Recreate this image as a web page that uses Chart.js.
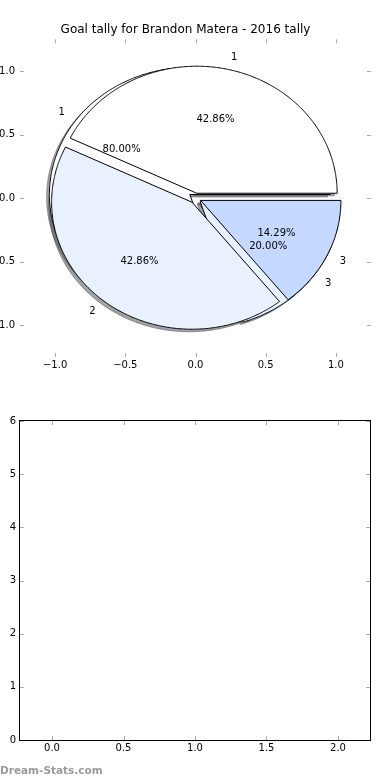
<!DOCTYPE html>
<html>
<head>
<meta charset="utf-8">
<script src="https://cdn.jsdelivr.net/npm/chart.js@4/dist/chart.umd.min.js"></script>
<style>
  body { margin: 0; background: #fff; }
  #wrap { position: relative; width: 390px; height: 780px; }
  canvas { position: absolute; left: 0; }
  #mark { position: absolute; left: 0; top: 763px; font: bold 10.5px "DejaVu Sans"; color: #9a9a9a; line-height: 14px; }
</style>
</head>
<body>
<div id="wrap">
  <canvas id="pieChart" width="390" height="390" style="top:0"></canvas>
  <canvas id="emptyChart" width="390" height="390" style="top:390px"></canvas>
  <div id="mark">Dream-Stats.com</div>
</div>
<script>
// dados da pizza principal (3 fatias) e da pizza de baixo (2 fatias)
const sliceLabels = ['1', '2', '3'];
const goalValues = [3, 3, 1];
const sliceColors = ['#ffffff', '#eaf1fe', '#c5d8ff'];
const goalExplode = [0.04, 0.04, 0.04];

const seasonLabels = ['1', '3'];
const seasonValues = [4, 1];
const seasonColors = ['#ffffff', '#eaf1fe'];
const seasonExplode = [0.05, 0.04];

// ticks dos eixos
const xTicksTop = [-1, -0.5, 0, 0.5, 1];
const yTicksTop = [-1, -0.5, 0, 0.5, 1];
const xTicksBottom = [0, 0.5, 1, 1.5, 2];
const yTicksBottom = [0, 1, 2, 3, 4, 5, 6];

Chart.defaults.font.family = 'DejaVu Sans';
Chart.defaults.font.size = 10;
Chart.defaults.color = '#000';

function fmt(v) {
    return (v < 0 ? '\u2212' : '') + Math.abs(v).toFixed(1);
}

function wedgesOf(values, explode) {
    const total = values.reduce((a, b) => a + b, 0);
    let t1 = 0;
    return values.map((v, i) => {
        const t2 = t1 + v / total * 360;
        const mid = (t1 + t2) / 2 * Math.PI / 180;
        const w = { t1, t2, mid, frac: v / total,
            cx: explode[i] * Math.cos(mid), cy: explode[i] * Math.sin(mid) };
        t1 = t2;
        return w;
    });
}

function wedgePath(ctx, x, y, w, dx, dy) {
    const n = Math.ceil((w.t2 - w.t1) / 0.5);
    ctx.beginPath();
    ctx.moveTo(x.getPixelForValue(w.cx + dx), y.getPixelForValue(w.cy + dy));
    for (let k = 0; k <= n; k++) {
        const a = (w.t1 + (w.t2 - w.t1) * k / n) * Math.PI / 180;
        ctx.lineTo(x.getPixelForValue(w.cx + dx + Math.cos(a)), y.getPixelForValue(w.cy + dy + Math.sin(a)));
    }
    ctx.closePath();
}

function shade(hex) {
    const n = parseInt(hex.slice(1), 16);
    return 'rgba(' + [(n >> 16) & 255, (n >> 8) & 255, n & 255].map(c => Math.round(c * 0.3)).join(',') + ',0.5)';
}

function pies() {
    return [
        { wedges: wedgesOf(seasonValues, seasonExplode), colors: seasonColors, labels: seasonLabels },
        { wedges: wedgesOf(goalValues, goalExplode), colors: sliceColors, labels: sliceLabels }
    ];
}

const piePlugin = {
    id: 'pies',
    beforeDatasetsDraw(chart) {
        const { ctx, scales: { x, y } } = chart;
        const list = pies();
        ctx.save();
        ctx.lineWidth = 1;
        ctx.lineJoin = 'round';
        // sombras primeiro, depois as fatias
        list.forEach(p => p.wedges.forEach((w, i) => {
            wedgePath(ctx, x, y, w, -0.02, -0.02);
            ctx.fillStyle = shade(p.colors[i]);
            ctx.strokeStyle = shade(p.colors[i]);
            ctx.fill();
            ctx.stroke();
        }));
        list.forEach(p => p.wedges.forEach((w, i) => {
            wedgePath(ctx, x, y, w, 0, 0);
            ctx.fillStyle = p.colors[i];
            ctx.strokeStyle = '#000';
            ctx.fill();
            ctx.stroke();
        }));
        ctx.restore();
    },
    afterDatasetsDraw(chart) {
        const { ctx, scales: { x, y } } = chart;
        ctx.save();
        ctx.fillStyle = '#000';
        ctx.font = '10px "DejaVu Sans"';
        ctx.textBaseline = 'middle';
        pies().forEach(p => p.wedges.forEach((w, i) => {
            const lx = w.cx + 1.1 * Math.cos(w.mid);
            const ly = w.cy + 1.1 * Math.sin(w.mid);
            ctx.textAlign = lx > 0 ? 'left' : 'right';
            ctx.fillText(p.labels[i], x.getPixelForValue(lx), y.getPixelForValue(ly));
            ctx.textAlign = 'center';
            ctx.fillText((w.frac * 100).toFixed(2) + '%',
                x.getPixelForValue(w.cx + 0.6 * Math.cos(w.mid)),
                y.getPixelForValue(w.cy + 0.6 * Math.sin(w.mid)));
        }));
        ctx.restore();
    }
};

// marcas de tick para dentro, nos quatro lados
const tickMarks = {
    id: 'tickMarks',
    afterDraw(chart) {
        const { ctx, chartArea: a, scales: { x, y } } = chart;
        ctx.save();
        ctx.strokeStyle = '#aaaaaa';
        ctx.lineWidth = 1;
        ctx.beginPath();
        x.ticks.forEach(t => {
            const px = Math.round(x.getPixelForValue(t.value)) + 0.5;
            ctx.moveTo(px, a.top); ctx.lineTo(px, a.top + 4);
            ctx.moveTo(px, a.bottom); ctx.lineTo(px, a.bottom - 4);
        });
        y.ticks.forEach(t => {
            const py = Math.round(y.getPixelForValue(t.value)) + 0.5;
            ctx.moveTo(a.left, py); ctx.lineTo(a.left + 4, py);
            ctx.moveTo(a.right, py); ctx.lineTo(a.right - 4, py);
        });
        ctx.stroke();
        ctx.restore();
    }
};

const frame = {
    id: 'frame',
    afterDraw(chart) {
        const { ctx, chartArea: a } = chart;
        ctx.save();
        ctx.strokeStyle = '#000';
        ctx.lineWidth = 1;
        ctx.strokeRect(a.left - 0.5, a.top - 0.5, a.right - a.left + 1, a.bottom - a.top + 1);
        ctx.restore();
    }
};

function axis(min, max, ticks, fmtFn, fit, padding) {
    return {
        type: 'linear', min, max,
        grid: { display: false, drawTicks: false },
        border: { display: false },
        afterBuildTicks: s => { s.ticks = ticks.map(v => ({ value: v })); },
        afterFit: fit,
        ticks: { callback: fmtFn, padding, maxRotation: 0, autoSkip: false }
    };
}

new Chart(document.getElementById('pieChart'), {
    type: 'scatter',
    data: { datasets: [{ data: [] }] },
    options: {
        responsive: false,
        animation: false,
        devicePixelRatio: 1,
        layout: { padding: { top: 0, right: 19, bottom: 0, left: 0 } },
        plugins: {
            legend: { display: false },
            tooltip: { enabled: false },
            title: {
                display: true,
                text: 'Goal tally for Brandon Matera - 2016 tally',
                font: { size: 12, weight: 'normal' },
                color: '#000',
                padding: { top: 23, bottom: 2 }
            }
        },
        scales: {
            x: axis(-1.25, 1.25, xTicksTop, fmt, s => { s.height = 33; }, 2),
            y: axis(-1.25, 1.25, yTicksTop, fmt, s => { s.width = 20; }, 5)
        }
    },
    plugins: [piePlugin, tickMarks]
});

new Chart(document.getElementById('emptyChart'), {
    type: 'scatter',
    data: { datasets: [{ data: [] }] },
    options: {
        responsive: false,
        animation: false,
        devicePixelRatio: 1,
        layout: { padding: { top: 31, right: 20, bottom: 0, left: 0 } },
        plugins: { legend: { display: false }, tooltip: { enabled: false } },
        scales: {
            x: axis(-0.224, 2.224, xTicksBottom, v => v.toFixed(1), s => { s.height = 40; }, 2),
            y: axis(0, 6, yTicksBottom, v => String(v), s => { s.width = 20; }, 4)
        }
    },
    plugins: [tickMarks, frame]
});
</script>
</body>
</html>
